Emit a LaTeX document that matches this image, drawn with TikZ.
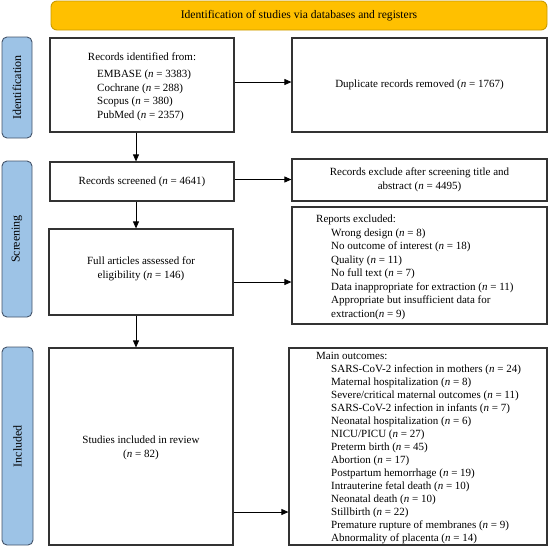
\documentclass[tikz,border=0pt]{standalone}
\usepackage{fontspec}
\setmainfont{Liberation Serif}
\usetikzlibrary{arrows.meta}
\definecolor{bannerfill}{HTML}{FFC000}
\definecolor{bannerdraw}{HTML}{C99A00}
\definecolor{labfill}{HTML}{9DC3E6}
\definecolor{labdraw}{HTML}{44546A}
\definecolor{boxdraw}{HTML}{333333}
\begin{document}
\begin{tikzpicture}[x=1pt,y=-1pt,
  box/.style={draw=boxdraw, line width=1.2pt, fill=white, inner sep=0pt},
  lab/.style={draw=labdraw, line width=0.9pt, fill=labfill, rounded corners=5pt, rotate=90, inner sep=0pt, font=\fontsize{12}{14}\selectfont},
  banner/.style={draw=bannerdraw, line width=0.9pt, fill=bannerfill, rounded corners=6pt, inner sep=0pt, font=\fontsize{11.6}{14}\selectfont},
  txt/.style={inner sep=0pt, font=\fontsize{11}{13.5}\selectfont},
  arr/.style={-{Triangle[length=7pt,width=6pt]}, line width=0.8pt, draw=black}]
\useasboundingbox (0,0) rectangle (549,547);

% banner
\node[banner, minimum width=496pt, minimum height=29pt] (ban) at (299,15.5) {Identification of studies via databases and registers};

% side labels
\node[lab, minimum width=101pt, minimum height=30pt] (lid) at (17,87.5) {Identification};
\node[lab, minimum width=156pt, minimum height=30pt] (lsc) at (17,239) {Screening};
\node[lab, minimum width=198pt, minimum height=31pt] (lin) at (17.5,446) {Included};

% boxes
\node[box, minimum width=184pt, minimum height=94pt] (rid) at (142,85) {};
\node[box, minimum width=255pt, minimum height=94pt] (dup) at (419.5,85) {};
\node[box, minimum width=184pt, minimum height=39pt] (rsc) at (142,181.5) {};
\node[box, minimum width=255pt, minimum height=42pt] (rex) at (419.5,180) {};
\node[box, minimum width=255pt, minimum height=117pt] (rep) at (419.5,265.5) {};
\node[box, minimum width=184pt, minimum height=86pt] (fa) at (141,272) {};
\node[box, minimum width=184pt, minimum height=197pt] (inc) at (141,446.5) {};
\node[box, minimum width=258pt, minimum height=197pt] (mo) at (418,446.5) {};

% texts
\node[txt, anchor=base] (t1) at (142,60.5) {Records identified from:};
\foreach \t [count=\i from 0] in {{EMBASE (\textit{n} = 3383)},{Cochrane (\textit{n} = 288)},{Scopus (\textit{n} = 380)},{PubMed (\textit{n} = 2357)}}
  \node[txt, anchor=base west] (db\i) at (97,77.5+13.5*\i) {\t};
\node[txt] (t2) at (419.5,85) {Duplicate records removed (\textit{n} = 1767)};
\node[txt] (t3) at (142,181.5) {Records screened (\textit{n} = 4641)};
\node[txt, align=center] (t4) at (419.5,180) {Records exclude after screening title and\\abstract (\textit{n} = 4495)};
\node[txt, anchor=base west] (t5) at (316,222.5) {Reports excluded:};
\foreach \t [count=\i from 0] in {{Wrong design (\textit{n} = 8)},{No outcome of interest (\textit{n} = 18)},{Quality (\textit{n} = 11)},{No full text (\textit{n} = 7)},{Data inappropriate for extraction (\textit{n} = 11)},{Appropriate but insufficient data for},{extraction(\textit{n} = 9)}}
  \node[txt, anchor=base west] (re\i) at (331,236+13.5*\i) {\t};
\node[txt, align=center] (t6) at (141,269) {Full articles assessed for\\eligibility (\textit{n} = 146)};
\node[txt, align=center] (t7) at (141,448) {Studies included in review\\(\textit{n} = 82)};
\node[txt, anchor=base west] (t8) at (316,359.5) {Main outcomes:};
\foreach \t [count=\i from 0] in {{SARS-CoV-2 infection in mothers (\textit{n} = 24)},{Maternal hospitalization (\textit{n} = 8)},{Severe/critical maternal outcomes (\textit{n} = 11)},{SARS-CoV-2 infection in infants (\textit{n} = 7)},{Neonatal hospitalization (\textit{n} = 6)},{NICU/PICU (\textit{n} = 27)},{Preterm birth (\textit{n} = 45)},{Abortion (\textit{n} = 17)},{Postpartum hemorrhage (\textit{n} = 19)},{Intrauterine fetal death (\textit{n} = 10)},{Neonatal death (\textit{n} = 10)},{Stillbirth (\textit{n} = 22)},{Premature rupture of membranes (\textit{n} = 9)},{Abnormality of placenta (\textit{n} = 14)}}
  \node[txt, anchor=base west] (mo\i) at (331,372.5+13*\i) {\t};

% arrows
\draw[arr] (rid.south -| 136,0) -- (rsc.north -| 136,0);
\draw[arr] (rsc.south -| 136,0) -- (fa.north -| 136,0);
\draw[arr] (fa.south -| 136,0) -- (inc.north -| 136,0);
\draw[arr] ([yshift=3pt]rid.east) -- ([yshift=3pt]dup.west);
\draw[arr] ([yshift=2pt]rsc.east) -- ([yshift=2pt]rex.west |- rsc.east);
\draw[arr] ([yshift=-10pt]fa.east) -- ([yshift=-10pt]rep.west |- fa.east);
\draw[arr] ([yshift=-65.5pt]inc.east) -- ([yshift=-65.5pt]mo.west |- inc.east);
\end{tikzpicture}
\end{document}
